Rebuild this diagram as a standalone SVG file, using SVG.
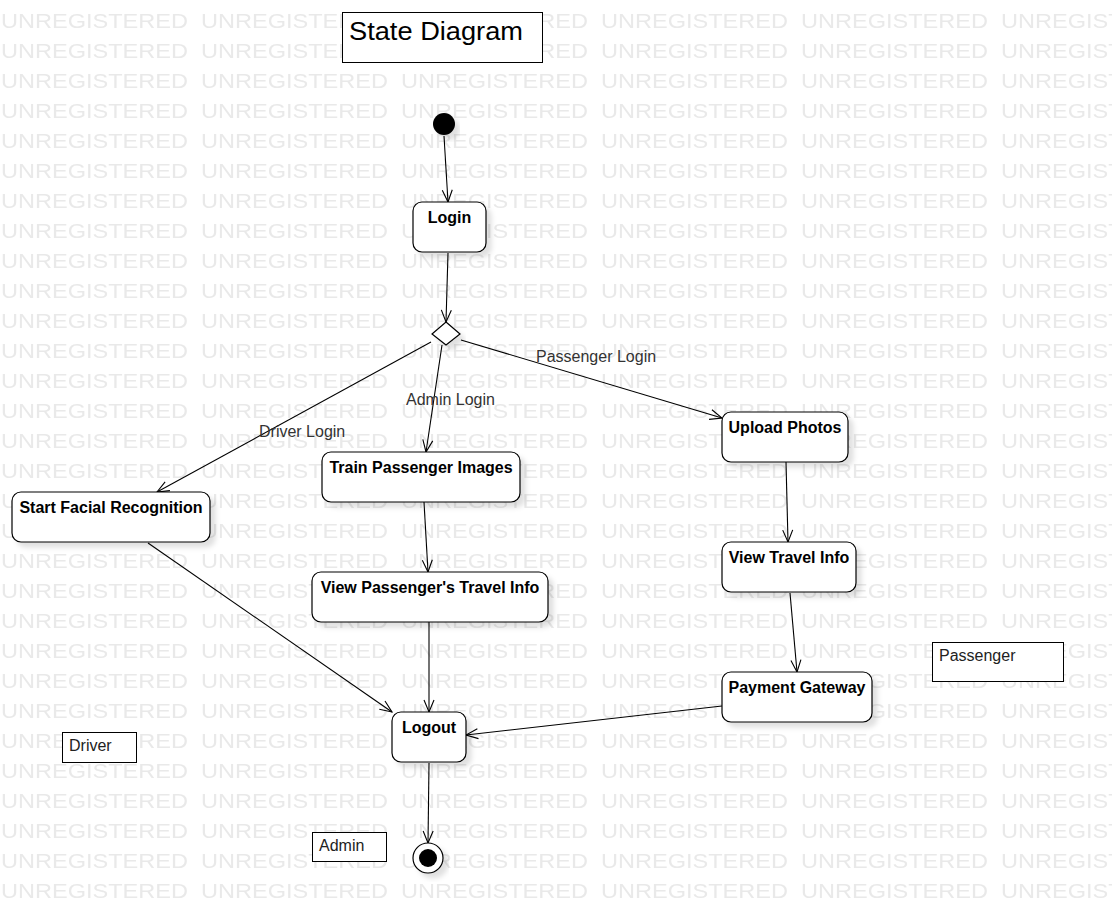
<svg xmlns="http://www.w3.org/2000/svg" width="1112" height="923" viewBox="0 0 1112 923">
<style>
.wm{font-family:"Liberation Sans",Arial,sans-serif;font-size:21px;fill:#e9e9e9}
.st{fill:#fff;stroke:#000;stroke-width:1.2}
.nt{font-family:"Liberation Sans",Arial,sans-serif;font-size:16px;font-weight:bold;fill:#000;text-anchor:middle}
.note{fill:#fff;stroke:#000;stroke-width:1}
.ntx{font-family:"Liberation Sans",Arial,sans-serif;font-size:16px;fill:#222}
.lbl{font-family:"Liberation Sans",Arial,sans-serif;font-size:16px;fill:#333}
.cn{stroke:#000;stroke-width:1.1;fill:none;marker-end:url(#arr)}
</style>
<defs>
<pattern id="wmp" x="0" y="0" width="200" height="30" patternUnits="userSpaceOnUse">
<text class="wm" x="1" y="28" textLength="187" lengthAdjust="spacingAndGlyphs">UNREGISTERED</text>
</pattern>
<marker id="arr" markerUnits="userSpaceOnUse" markerWidth="14" markerHeight="12" viewBox="0 0 14 12" refX="13" refY="6" orient="auto">
<path d="M1,1 L13,6 L1,11" fill="none" stroke="#000" stroke-width="1.1"/>
</marker>
<filter id="sh" x="-10%" y="-10%" width="130%" height="140%">
<feDropShadow dx="5" dy="5" stdDeviation="2.5" flood-color="#000" flood-opacity="0.12"/>
</filter>
</defs>
<rect width="1112" height="923" fill="#fff"/>
<rect x="0" y="0" width="1112" height="900" fill="url(#wmp)"/>

<g id="title">
<rect x="342.5" y="12.5" width="200" height="50" fill="#fff" stroke="#000" stroke-width="1"/>
<text x="349" y="40" font-family="Liberation Sans, Arial, sans-serif" font-size="26" fill="#000" textLength="174" lengthAdjust="spacingAndGlyphs">State Diagram</text>
</g>

<g id="connectors">
<line class="cn" x1="444" y1="136" x2="448" y2="202"/>
<line class="cn" x1="448" y1="253" x2="446" y2="322"/>
<line class="cn" x1="431" y1="342" x2="157" y2="492"/>
<line class="cn" x1="442" y1="345" x2="426" y2="452"/>
<line class="cn" x1="461" y1="340" x2="722" y2="418"/>
<line class="cn" x1="424" y1="502" x2="428" y2="572"/>
<line class="cn" x1="786" y1="462" x2="788" y2="542"/>
<line class="cn" x1="790" y1="593" x2="797" y2="672"/>
<line class="cn" x1="148" y1="543" x2="392" y2="712"/>
<line class="cn" x1="429" y1="622" x2="429" y2="712"/>
<line class="cn" x1="722" y1="706" x2="466" y2="735"/>
<line class="cn" x1="429" y1="763" x2="428" y2="843"/>
<text class="lbl" x="259" y="437">Driver Login</text>
<text class="lbl" x="406" y="405">Admin Login</text>
<text class="lbl" x="536" y="362">Passenger Login</text>
</g>

<g id="initial">
<circle cx="444" cy="124" r="11" fill="#000" filter="url(#sh)"/>
</g>

<g id="login">
<rect class="st" x="413" y="202" width="73" height="50" rx="9" filter="url(#sh)"/>
<text class="nt" x="449.5" y="223">Login</text>
</g>

<g id="decision">
<polygon points="446,322 460,334 446,345 432,334" fill="#fff" stroke="#000" stroke-width="1.2" filter="url(#sh)"/>
</g>

<g id="startFacial">
<rect class="st" x="12" y="492" width="198" height="50" rx="9" filter="url(#sh)"/>
<text class="nt" x="111" y="513">Start Facial Recognition</text>
</g>

<g id="trainImages">
<rect class="st" x="322" y="452" width="198" height="50" rx="9" filter="url(#sh)"/>
<text class="nt" x="421" y="473">Train Passenger Images</text>
</g>

<g id="viewPassengerInfo">
<rect class="st" x="312" y="572" width="236" height="50" rx="9" filter="url(#sh)"/>
<text class="nt" x="430" y="593">View Passenger's Travel Info</text>
</g>

<g id="uploadPhotos">
<rect class="st" x="722" y="412" width="126" height="50" rx="9" filter="url(#sh)"/>
<text class="nt" x="785" y="433">Upload Photos</text>
</g>

<g id="viewTravelInfo">
<rect class="st" x="722" y="542" width="134" height="50" rx="9" filter="url(#sh)"/>
<text class="nt" x="789" y="563">View Travel Info</text>
</g>

<g id="paymentGateway">
<rect class="st" x="722" y="672" width="150" height="50" rx="9" filter="url(#sh)"/>
<text class="nt" x="797" y="693">Payment Gateway</text>
</g>

<g id="logout">
<rect class="st" x="392" y="712" width="74" height="50" rx="9" filter="url(#sh)"/>
<text class="nt" x="429" y="733">Logout</text>
</g>

<g id="final">
<circle cx="428" cy="858" r="15" fill="#fff" stroke="#000" stroke-width="1.2" filter="url(#sh)"/>
<circle cx="428" cy="858" r="9" fill="#000"/>
</g>

<g id="notePassenger">
<rect class="note" x="932.5" y="642.5" width="131" height="39"/>
<text class="ntx" x="939" y="661">Passenger</text>
</g>

<g id="noteDriver">
<rect class="note" x="62.5" y="732.5" width="74" height="30"/>
<text class="ntx" x="69" y="751">Driver</text>
</g>

<g id="noteAdmin">
<rect class="note" x="312.5" y="832.5" width="74" height="29"/>
<text class="ntx" x="319" y="851">Admin</text>
</g>
</svg>
